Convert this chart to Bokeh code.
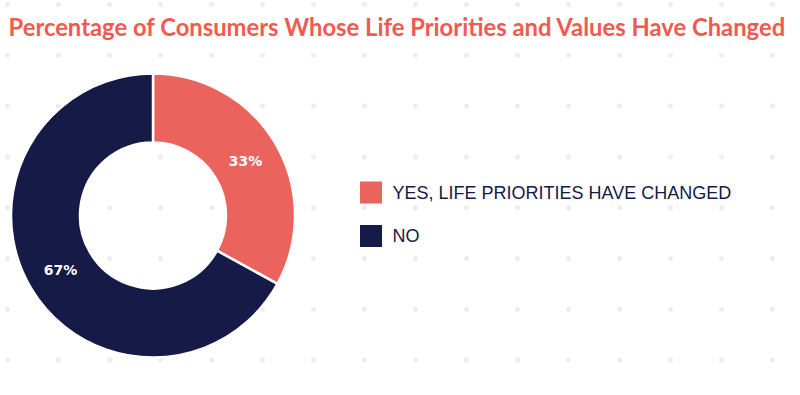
import numpy as np
from bokeh.plotting import figure
from bokeh.models import Range1d, ColumnDataSource
from bokeh.core.properties import value
from bokeh.embed import file_html
from bokeh.resources import INLINE

# ---- data ----
title_text = "Percentage of Consumers Whose Life Priorities and Values Have Changed"
categories = ["YES, LIFE PRIORITIES HAVE CHANGED", "NO"]
values = [33, 67]
colors = ["#EA635D", "#161A47"]

W, H = 792, 387
p = figure(width=W, height=H, output_backend="svg", toolbar_location=None,
           x_range=Range1d(0, W), y_range=Range1d(0, H), min_border=0,
           outline_line_color=None, background_fill_color="white")
p.axis.visible = False
p.grid.visible = False

def Y(ref_y):
    return H - ref_y

def X(ref_x):
    return ref_x

# background dot pattern
dx, dy = [], []
for i in range(16):
    for j in range(8):
        dx.append(X(7 + 51 * i))
        dy.append(Y(4 + 50.8 * j))
p.scatter(dx, dy, size=5, color="#EDEDED", line_color=None)

# donut
cx, cy = X(152.5), Y(215)
r_out, r_in = 142, 73
total = sum(values)
fracs = [v / total for v in values]
cum = np.cumsum([0] + fracs)
start = [np.pi / 2 - 2 * np.pi * c for c in cum[:-1]]
end = [np.pi / 2 - 2 * np.pi * c for c in cum[1:]]
src = ColumnDataSource(dict(start=start, end=end, color=colors,
                            x=[cx] * len(values), y=[cy] * len(values)))
p.annular_wedge(x="x", y="y", inner_radius=r_in, outer_radius=r_out,
                start_angle="start", end_angle="end", direction="clock",
                color="color", line_color="white", line_width=2.5, source=src)

# slice labels
mid = [(s + e) / 2 for s, e in zip(start, end)]
r_lab = (r_in + r_out) / 2
lx = [cx + r_lab * np.cos(m) for m in mid]
ly = [cy + r_lab * np.sin(m) for m in mid]
p.text(lx, ly, text=[f"{v}%" for v in values], text_color="white",
       text_font=value("DejaVu Sans"), text_font_style="bold",
       text_font_size="14px", text_align="center", text_baseline="middle")

# legend
leg_y = [Y(192 + 43.5 * i) for i in range(len(categories))]
p.rect([X(370.5)] * len(categories), leg_y, width=22, height=22,
       color=colors, line_color=None)
p.text([X(392)] * len(categories), leg_y, text=categories, text_color="#161A47",
       text_font=value("Liberation Sans"), text_font_size="18px",
       text_align="left", text_baseline="middle")

# title
p.text([X(8)], [Y(26)], text=[title_text], text_color="#F25A50",
       text_font=value("Lato"), text_font_style="bold", text_font_size="23.8px",
       text_align="left", text_baseline="middle")

open("out.html", "w").write(file_html(p, INLINE))
